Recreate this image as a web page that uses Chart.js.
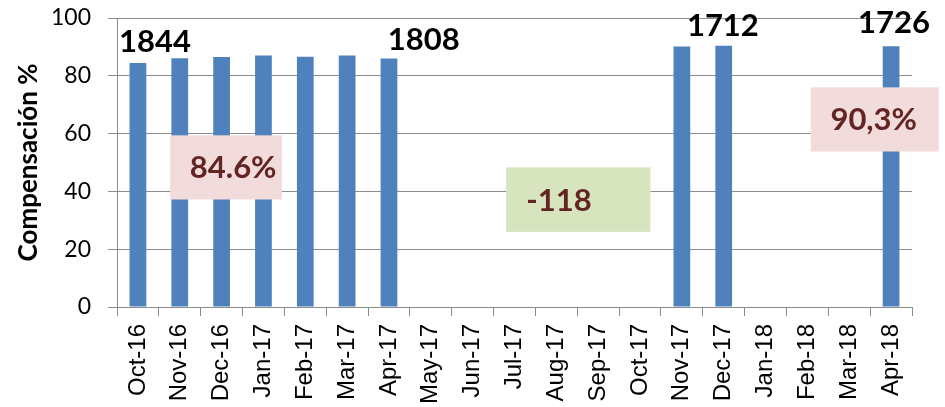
<!DOCTYPE html>
<html>
<head>
<meta charset="utf-8">
<script src="https://cdn.jsdelivr.net/npm/chart.js@4"></script>
<style>
    html, body { margin: 0; padding: 0; background: #fff; }
    #wrap { width: 945px; height: 407px; }
</style>
</head>
<body>
<div id="wrap"><canvas id="chart"></canvas></div>
<script>
const categories = ['Oct-16', 'Nov-16', 'Dec-16', 'Jan-17', 'Feb-17', 'Mar-17', 'Apr-17', 'May-17', 'Jun-17', 'Jul-17',
    'Aug-17', 'Sep-17', 'Oct-17', 'Nov-17', 'Dec-17', 'Jan-18', 'Feb-18', 'Mar-18', 'Apr-18'];
const compensacion = [84.4, 86.1, 86.5, 87.0, 86.6, 87.0, 86.0, null, null, null,
    null, null, null, 90.1, 90.4, null, null, null, 90.2];
const yTicks = [0, 20, 40, 60, 80, 100];

// totals written above some bars
const totalLabels = ['1844', '1808', '1712', '1726'];
// callout boxes
const calloutTexts = ['84.6%', '-118', '90,3%'];

const GRID = '#8c8c8c';

// positions in data units (category index, value)
const totalPos = [{ x: 0.41, y: 91.8 }, { x: 6.83, y: 92.4 }, { x: 13.98, y: 97.2 }, { x: 18.07, y: 98.3 }];
const calloutBoxes = [
    { x0: 0.77, x1: 3.44, y0: 59.4, y1: 37.2, tx: 1.24, fill: '#f2dcdb' },
    { x0: 8.80, x1: 12.25, y0: 48.3, y1: 26.0, tx: 9.28, fill: '#d7e4bd' },
    { x0: 16.08, x1: 19.14, y0: 76.0, y1: 53.8, tx: 16.55, fill: '#f2dcdb' },
];

const notesPlugin = {
    id: 'notes',
    afterDatasetsDraw(chart) {
        const { ctx, scales: { x, y } } = chart;
        ctx.save();
        calloutBoxes.forEach((b, i) => {
            const left = x.getPixelForValue(b.x0);
            const right = x.getPixelForValue(b.x1);
            const top = y.getPixelForValue(b.y0);
            const bottom = y.getPixelForValue(b.y1);
            ctx.fillStyle = b.fill;
            ctx.fillRect(left, top, right - left, bottom - top);
            ctx.fillStyle = '#632523';
            ctx.font = 'bold 31px Lato';
            ctx.textAlign = 'left';
            ctx.textBaseline = 'middle';
            ctx.fillText(calloutTexts[i], x.getPixelForValue(b.tx), (top + bottom) / 2 + 1);
        });
        ctx.fillStyle = '#000';
        ctx.font = 'bold 31px Lato';
        ctx.textAlign = 'center';
        ctx.textBaseline = 'middle';
        totalLabels.forEach((t, i) => {
            ctx.fillText(t, x.getPixelForValue(totalPos[i].x), y.getPixelForValue(totalPos[i].y));
        });
        ctx.restore();
    }
};

new Chart(document.getElementById('chart'), {
    type: 'bar',
    data: {
        labels: categories,
        datasets: [{
            label: 'Compensación %',
            data: compensacion,
            backgroundColor: '#4f81bd',
            barPercentage: 0.4,
            categoryPercentage: 1.0,
        }],
    },
    options: {
        responsive: true,
        maintainAspectRatio: false,
        animation: false,
        layout: { padding: { top: 18, right: 33, left: 0, bottom: 0 } },
        plugins: { legend: { display: false }, tooltip: { enabled: false } },
        scales: {
            x: {
                grid: { offset: true, drawOnChartArea: false, drawTicks: true, tickLength: 9, color: GRID },
                border: { display: true, color: GRID },
                ticks: {
                    minRotation: 90, maxRotation: 90, autoSkip: false, padding: 8,
                    color: '#000', font: { family: 'Liberation Sans', size: 24 },
                },
                afterFit: (s) => { s.height = 100; },
            },
            y: {
                min: 0, max: 100,
                afterBuildTicks: (s) => { s.ticks = yTicks.map((v) => ({ value: v })); },
                grid: { color: GRID, tickLength: 9 },
                border: { display: true, color: GRID },
                ticks: { padding: 17, color: '#000', font: { family: 'Lato', size: 23 } },
                title: {
                    display: true, text: 'Compensación %', color: '#000',
                    font: { family: 'Lato', size: 26, weight: 'bold' }, padding: { top: 13, bottom: 0 },
                },
                afterFit: (s) => {
                    s.width = 117;
                    s.paddingTop = 10;
                    s.paddingBottom = 10;
                },
            },
        },
    },
    plugins: [notesPlugin],
});
</script>
</body>
</html>
